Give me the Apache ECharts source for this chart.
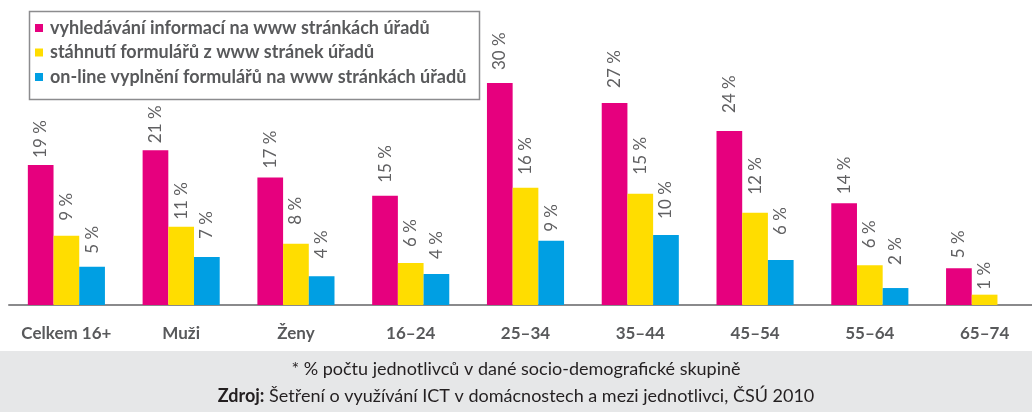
<!DOCTYPE html>
<html>
<head>
<meta charset="utf-8">
<script src="https://cdn.jsdelivr.net/npm/echarts@6/dist/echarts.min.js"></script>
<style>
  html, body { margin: 0; padding: 0; background: #fff; overflow: hidden; }
  #chart { width: 1042px; height: 412px; }
</style>
</head>
<body>
<div id="chart"></div>
<script>
(function () {
    // skupiny
    var categories = ['Celkem 16+', 'Muži', 'Ženy', '16–24', '25–34', '35–44', '45–54', '55–64', '65–74'];
    var seriesNames = [
        'vyhledávání informací na www stránkách úřadů',
        'stáhnutí formulářů z www stránek úřadů',
        'on-line vyplnění formulářů na www stránkách úřadů'
    ];
    // hodnoty v %
    var hledani = [19.0, 21.0, 17.3, 14.8, 30.1, 27.4, 23.6, 13.8, 5.0];
    var stazeni = [9.4, 10.6, 8.3, 5.7, 15.9, 15.1, 12.5, 5.4, 1.4];
    var vyplneni = [5.2, 6.5, 3.9, 4.2, 8.7, 9.5, 6.1, 2.3, null];
    // popisky nad sloupci
    var hledaniLbl = [19, 21, 17, 15, 30, 27, 24, 14, 5];
    var stazeniLbl = [9, 11, 8, 6, 16, 15, 12, 6, 1];
    var vyplneniLbl = [5, 7, 4, 4, 9, 10, 6, 2, null];

    // odsazeni popisku od sloupce (v px), v originale rucne umistene
    var gapHledani = [7, 7, 9, 13, 13, 15, 18, 9, 10];
    var gapStazeni = [15, 7, 19, 16, 13, 19, 18, 17, 5];
    var gapVyplneni = [13, 18, 18, 15, 9, 16, 25, 23, 0];

    var colors = ['#e6007e', '#ffdd00', '#009fe3'];
    var textFont = 'Lato';

    function makeSeries(idx, values, labels, gaps) {
        return {
            name: seriesNames[idx],
            type: 'bar',
            data: values.map(function (v, i) {
                return {value: v, label: {distance: gaps[i]}};
            }),
            barWidth: 25.7,
            barGap: '0%',
            itemStyle: {color: colors[idx]},
            label: {
                show: true,
                position: 'top',
                rotate: 90,
                align: 'left',
                verticalAlign: 'middle',
                color: '#606062',
                fontFamily: textFont,
                fontSize: 17,
                formatter: function (p) {
                    return labels[p.dataIndex] + ' %';
                }
            }
        };
    }

    var chart = echarts.init(document.getElementById('chart'), null, {renderer: 'canvas'});
    chart.setOption({
        animation: false,
        backgroundColor: '#fff',
        grid: {left: 9, top: 10, width: 1033, height: 295},
        legend: {
            orient: 'vertical',
            left: 27,
            top: 9,
            padding: [9, 5, 10, 8],
            itemWidth: 8,
            itemHeight: 8,
            itemGap: 4.5,
            icon: 'rect',
            textStyle: {
                color: '#58595b',
                fontFamily: textFont,
                fontWeight: 'bold',
                fontSize: 18,
                lineHeight: 20,
                padding: [0, 0, 0, 2]
            },
            data: seriesNames
        },
        xAxis: {
            type: 'category',
            data: categories,
            axisLine: {lineStyle: {color: '#8a8a8c', width: 2}},
            axisTick: {show: false},
            axisLabel: {
                interval: 0,
                margin: 20,
                color: '#58595b',
                fontFamily: textFont,
                fontWeight: 'bold',
                fontSize: 17
            }
        },
        yAxis: {
            type: 'value',
            min: 0,
            max: 40,
            show: false,
            splitLine: {show: false}
        },
        graphic: [
            {
                type: 'rect',
                left: 27, top: 9,
                shape: {width: 450, height: 88},
                style: {fill: 'none', stroke: '#8c8c8e', lineWidth: 1.5},
                z: 100
            },
            {
                type: 'rect',
                left: 0, top: 351,
                shape: {width: 1042, height: 61},
                style: {fill: '#e6e7e8'}
            },
            {
                type: 'text',
                x: 516, y: 369,
                style: {
                    text: '* % počtu jednotlivců v dané socio-demografické skupině',
                    fill: '#231f20',
                    font: '18px Lato',
                    textAlign: 'center',
                    textVerticalAlign: 'middle'
                }
            },
            {
                type: 'text',
                x: 516, y: 396,
                style: {
                    text: '{b|Zdroj:} Šetření o využívání ICT v domácnostech a mezi jednotlivci, ČSÚ 2010',
                    fill: '#231f20',
                    font: '18px Lato',
                    textAlign: 'center',
                    textVerticalAlign: 'middle',
                    rich: {b: {fontWeight: 'bold', fontFamily: 'Lato', fontSize: 18, fill: '#231f20'}}
                }
            }
        ],
        series: [
            makeSeries(0, hledani, hledaniLbl, gapHledani),
            makeSeries(1, stazeni, stazeniLbl, gapStazeni),
            makeSeries(2, vyplneni, vyplneniLbl, gapVyplneni)
        ]
    });
})();
</script>
</body>
</html>
